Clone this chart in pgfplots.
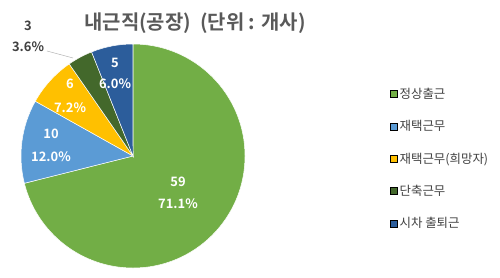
\documentclass[border=0pt]{standalone}
\usepackage{pgfplots}
\pgfplotsset{compat=1.18}
\usepackage{fontspec}
\setmainfont{Noto Sans CJK KR}[BoldFont={Noto Sans CJK KR Bold}]
\definecolor{cA}{HTML}{72AE46}
\definecolor{cB}{HTML}{5B9BD5}
\definecolor{cC}{HTML}{FFC000}
\definecolor{cD}{HTML}{43682B}
\definecolor{cE}{HTML}{2C5D9B}
\definecolor{tgray}{HTML}{595959}
\definecolor{lgray}{HTML}{404040}
\begin{document}
\begin{tikzpicture}
% values (count of companies)
\def\vA{59}\def\vB{10}\def\vC{6}\def\vD{3}\def\vE{5}
\pgfmathsetmacro\tot{\vA+\vB+\vC+\vD+\vE}
\pgfmathsetmacro\aO{90}
\pgfmathsetmacro\aA{\aO-360*(\vA/\tot)}
\pgfmathsetmacro\aB{\aA-360*(\vB/\tot)}
\pgfmathsetmacro\aC{\aB-360*(\vC/\tot)}
\pgfmathsetmacro\aD{\aC-360*(\vD/\tot)}
\pgfmathsetmacro\aE{\aD-360*(\vE/\tot)}
\begin{axis}[
  x=1bp, y=1bp, xmin=0, xmax=500, ymin=0, ymax=277,
  hide axis, clip=false,
  legend style={at={(axis cs:387,193)}, anchor=north west, draw=none, fill=none,
    font=\fontsize{12.5}{15}\selectfont, text=lgray, row sep=16.5bp,
    /tikz/every even column/.append style={column sep=0bp}},
  legend cell align=left,
  legend image code/.code={\fill[#1] (1bp,-3.5bp) rectangle (8bp,3.5bp);},
]
\path (axis cs:0,0) rectangle (axis cs:500,277);
\addlegendimage{fill=cA}\addlegendentry{정상출근}
\addlegendimage{fill=cB}\addlegendentry{재택근무}
\addlegendimage{fill=cC}\addlegendentry{재택근무(희망자)}
\addlegendimage{fill=cD}\addlegendentry{단축근무}
\addlegendimage{fill=cE}\addlegendentry{시차 출퇴근}

\fill[cA, draw=white, line width=0.5pt] (axis cs:133,121) -- ++(\aO:112bp) arc[start angle=\aO, end angle=\aA, radius=112bp] -- cycle;
\fill[cB, draw=white, line width=0.5pt] (axis cs:133,121) -- ++(\aA:112bp) arc[start angle=\aA, end angle=\aB, radius=112bp] -- cycle;
\fill[cC, draw=white, line width=0.5pt] (axis cs:133,121) -- ++(\aB:112bp) arc[start angle=\aB, end angle=\aC, radius=112bp] -- cycle;
\fill[cD, draw=white, line width=0.5pt] (axis cs:133,121) -- ++(\aC:112bp) arc[start angle=\aC, end angle=\aD, radius=112bp] -- cycle;
\fill[cE, draw=white, line width=0.5pt] (axis cs:133,121) -- ++(\aD:112bp) arc[start angle=\aD, end angle=\aE, radius=112bp] -- cycle;

\node[text=tgray, font=\fontsize{20}{23}\selectfont\bfseries] at (axis cs:195,254) {내근직(공장)\ \ (단위 : 개사)};

\begin{scope}[every node/.style={text=white, font=\fontsize{13}{15}\selectfont\bfseries}]
\node at (axis cs:178,95) {59};
\node at (axis cs:178,73) {71.1\%};
\node at (axis cs:51,143) {10};
\node at (axis cs:51,120) {12.0\%};
\node at (axis cs:70,193) {6};
\node at (axis cs:70,169) {7.2\%};
\node at (axis cs:115,214) {5};
\node at (axis cs:115,193) {6.0\%};
\end{scope}
\node[text=lgray, font=\fontsize{13}{15}\selectfont\bfseries] at (axis cs:28,251) {3};
\node[text=lgray, font=\fontsize{13}{15}\selectfont\bfseries] at (axis cs:28,230) {3.6\%};
\draw[gray!60, line width=0.5pt] (axis cs:47,226) -- (axis cs:73,219);
\end{axis}
\end{tikzpicture}
\end{document}
